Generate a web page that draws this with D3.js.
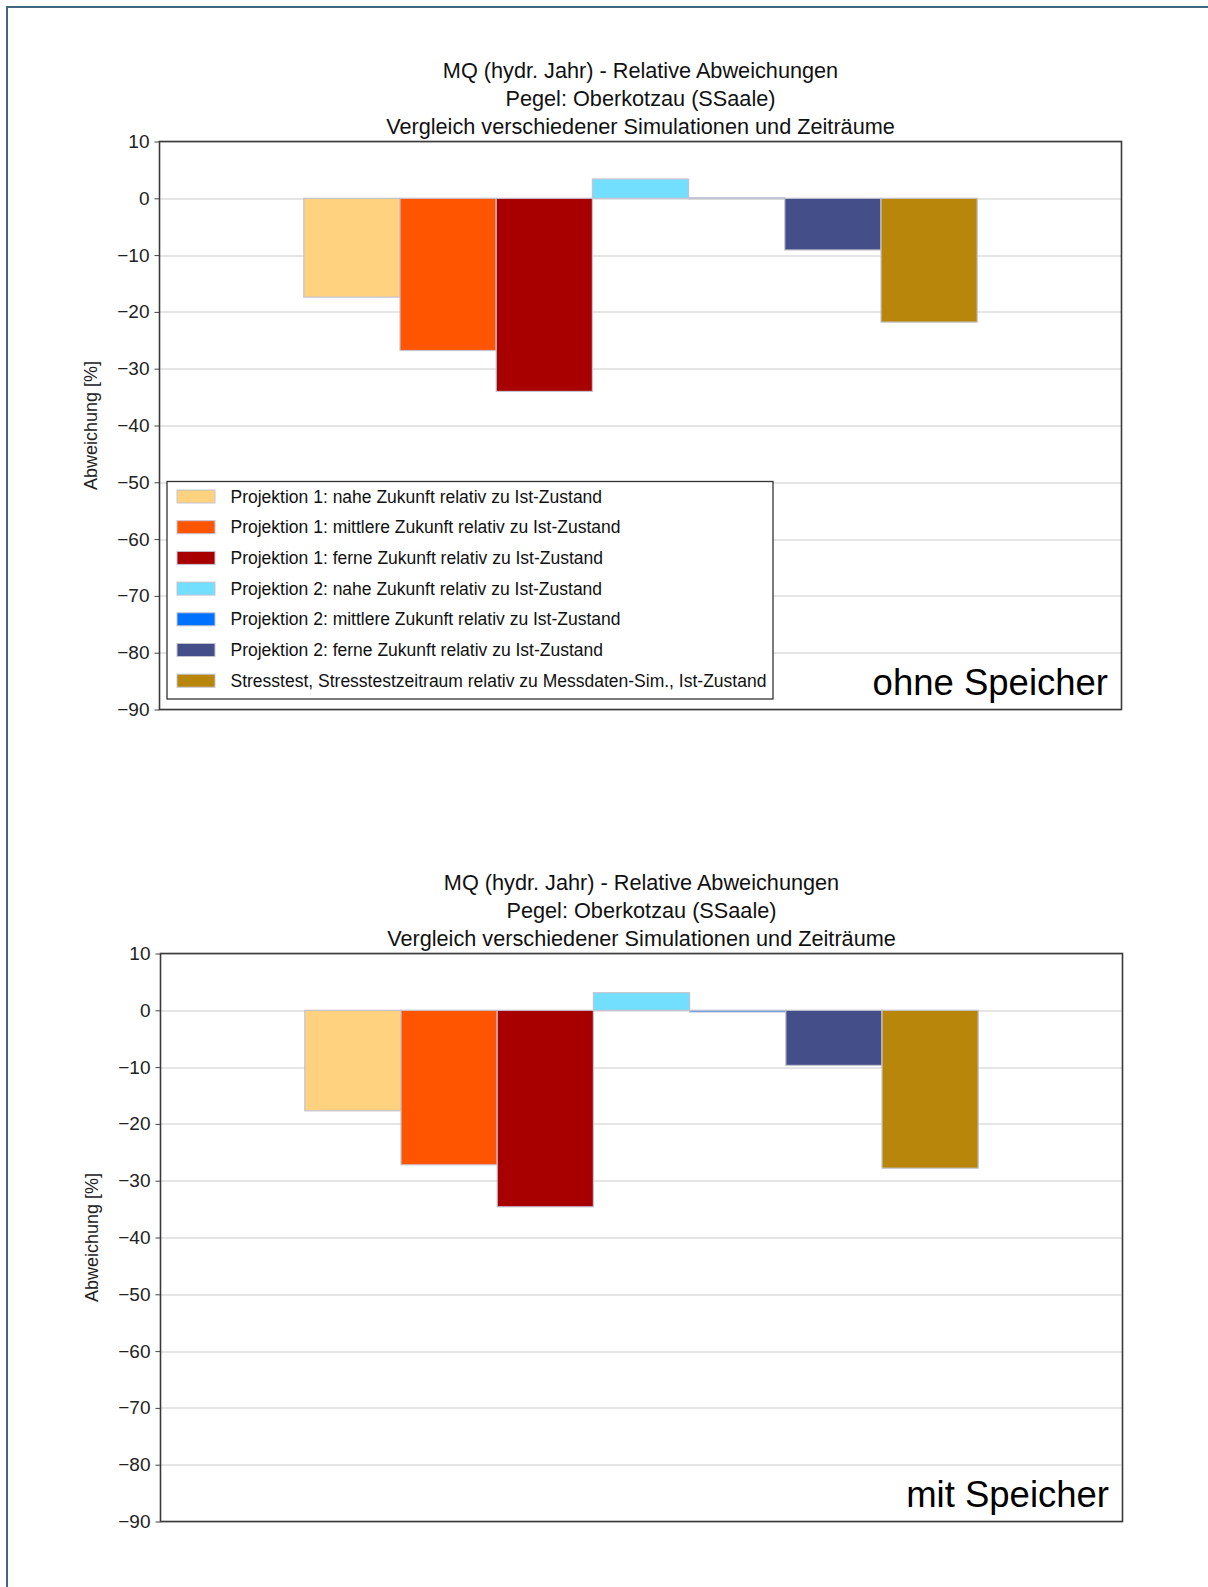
<!DOCTYPE html>
<html>
<head>
<meta charset="utf-8">
<script src="https://cdn.jsdelivr.net/npm/d3@7"></script>
<style>
    body { margin: 0; background: #fff; }
    svg { display: block; font-family: "Liberation Sans", Arial, sans-serif; }
</style>
</head>
<body>
<div id="chart"></div>
<script>
// chart texts
const titleLines = [
    'MQ (hydr. Jahr) - Relative Abweichungen',
    'Pegel: Oberkotzau (SSaale)',
    'Vergleich verschiedener Simulationen und Zeiträume'
];
const yLabel = 'Abweichung [%]';

// series (one bar each)
const series = [
    'Projektion 1: nahe Zukunft relativ zu Ist-Zustand',
    'Projektion 1: mittlere Zukunft relativ zu Ist-Zustand',
    'Projektion 1: ferne Zukunft relativ zu Ist-Zustand',
    'Projektion 2: nahe Zukunft relativ zu Ist-Zustand',
    'Projektion 2: mittlere Zukunft relativ zu Ist-Zustand',
    'Projektion 2: ferne Zukunft relativ zu Ist-Zustand',
    'Stresstest, Stresstestzeitraum relativ zu Messdaten-Sim., Ist-Zustand'
];
const seriesColors = ['#ffd27f', '#ff5500', '#a80000', '#73dfff', '#0070ff', '#444f89', '#b8860b'];

// values (percent)
const valuesOhne = [-17.4, -26.8, -34.0, 3.4, 0.1, -9.1, -21.8];
const valuesMit = [-17.7, -27.2, -34.6, 3.1, -0.3, -9.7, -27.8];

const yTicks = [10, 0, -10, -20, -30, -40, -50, -60, -70, -80, -90];
const yDomain = [-90, 10];

const W = 1208, H = 1587;
const plotW = 962, plotH = 568;

const panels = [
    { label: 'ohne Speicher', values: valuesOhne, left: 159.5, top: 141.5, legend: true },
    { label: 'mit Speicher', values: valuesMit, left: 160.5, top: 953.5, legend: false }
];

const svg = d3.select('#chart')
    .append('svg')
    .attr('width', W)
    .attr('height', H);

// outer frame (left and top edges)
svg.append('path')
    .attr('d', `M7,${H} L7,7 L${W},7`)
    .attr('fill', 'none')
    .attr('stroke', '#41677f')
    .attr('stroke-width', 2);

panels.forEach(p => drawPanel(p));

function drawPanel(p) {
    const g = svg.append('g')
        .attr('transform', `translate(${p.left},${p.top})`);

    const x = d3.scaleBand()
        .domain(series)
        .range([plotW * 0.15, plotW * 0.85])
        .paddingInner(0);

    const y = d3.scaleLinear()
        .domain(yDomain)
        .range([plotH, 0]);

    // title
    g.selectAll('.title')
        .data(titleLines)
        .join('text')
        .attr('class', 'title')
        .attr('x', plotW / 2)
        .attr('y', (d, i) => -63.5 + i * 28)
        .attr('text-anchor', 'middle')
        .attr('font-size', '21.7px')
        .attr('fill', '#111')
        .text(d => d);

    // grid
    g.append('g')
        .selectAll('line')
        .data(yTicks)
        .join('line')
        .attr('x1', 0)
        .attr('x2', plotW)
        .attr('y1', d => Math.round(y(d)) + 0.5)
        .attr('y2', d => Math.round(y(d)) + 0.5)
        .attr('stroke', '#cccccc')
        .attr('stroke-width', 1.2);

    // bars
    g.append('g')
        .selectAll('rect')
        .data(p.values.map((v, i) => ({ s: series[i], v, c: seriesColors[i] })))
        .join('rect')
        .attr('x', d => x(d.s))
        .attr('width', x.bandwidth())
        .attr('y', d => y(Math.max(0, d.v)))
        .attr('height', d => Math.max(1, Math.abs(y(d.v) - y(0))))
        .attr('fill', d => d.c)
        .attr('stroke', '#c4c4d0')
        .attr('stroke-width', 1.2);

    // y axis
    const axis = g.append('g')
        .call(d3.axisLeft(y).tickValues(yTicks).tickSize(5).tickPadding(5));
    axis.select('.domain').remove();
    axis.selectAll('.tick line').attr('stroke', '#444');
    axis.selectAll('.tick text')
        .attr('font-family', '"Liberation Sans", Arial, sans-serif')
        .attr('font-size', '19px')
        .attr('fill', '#222');

    g.append('text')
        .attr('transform', `translate(-63,${plotH / 2}) rotate(-90)`)
        .attr('text-anchor', 'middle')
        .attr('font-size', '18px')
        .attr('fill', '#222')
        .text(yLabel);

    // plot frame
    g.append('rect')
        .attr('x', 0)
        .attr('y', 0)
        .attr('width', plotW)
        .attr('height', plotH)
        .attr('fill', 'none')
        .attr('stroke', '#3a3a3a')
        .attr('stroke-width', 1.6);

    // panel label
    g.append('text')
        .attr('x', plotW - 13.5)
        .attr('y', plotH - 14.5)
        .attr('text-anchor', 'end')
        .attr('font-size', '36.5px')
        .attr('fill', '#000')
        .text(p.label);

    if (p.legend) drawLegend(g);
}

function drawLegend(g) {
    const lg = g.append('g')
        .attr('transform', 'translate(7.5,340)');

    lg.append('rect')
        .attr('width', 606)
        .attr('height', 217.5)
        .attr('fill', '#fff')
        .attr('stroke', '#333')
        .attr('stroke-width', 1.3);

    const items = lg.selectAll('.item')
        .data(series)
        .join('g')
        .attr('class', 'item')
        .attr('transform', (d, i) => `translate(0,${15 + i * 30.7})`);

    items.append('rect')
        .attr('x', 10)
        .attr('y', -6.5)
        .attr('width', 38)
        .attr('height', 13)
        .attr('fill', (d, i) => seriesColors[i])
        .attr('stroke', '#c4c4d0')
        .attr('stroke-width', 1);

    items.append('text')
        .attr('x', 63.5)
        .attr('y', 0)
        .attr('dy', '0.35em')
        .attr('font-size', '17.5px')
        .attr('fill', '#111')
        .text(d => d);
}
</script>
</body>
</html>
